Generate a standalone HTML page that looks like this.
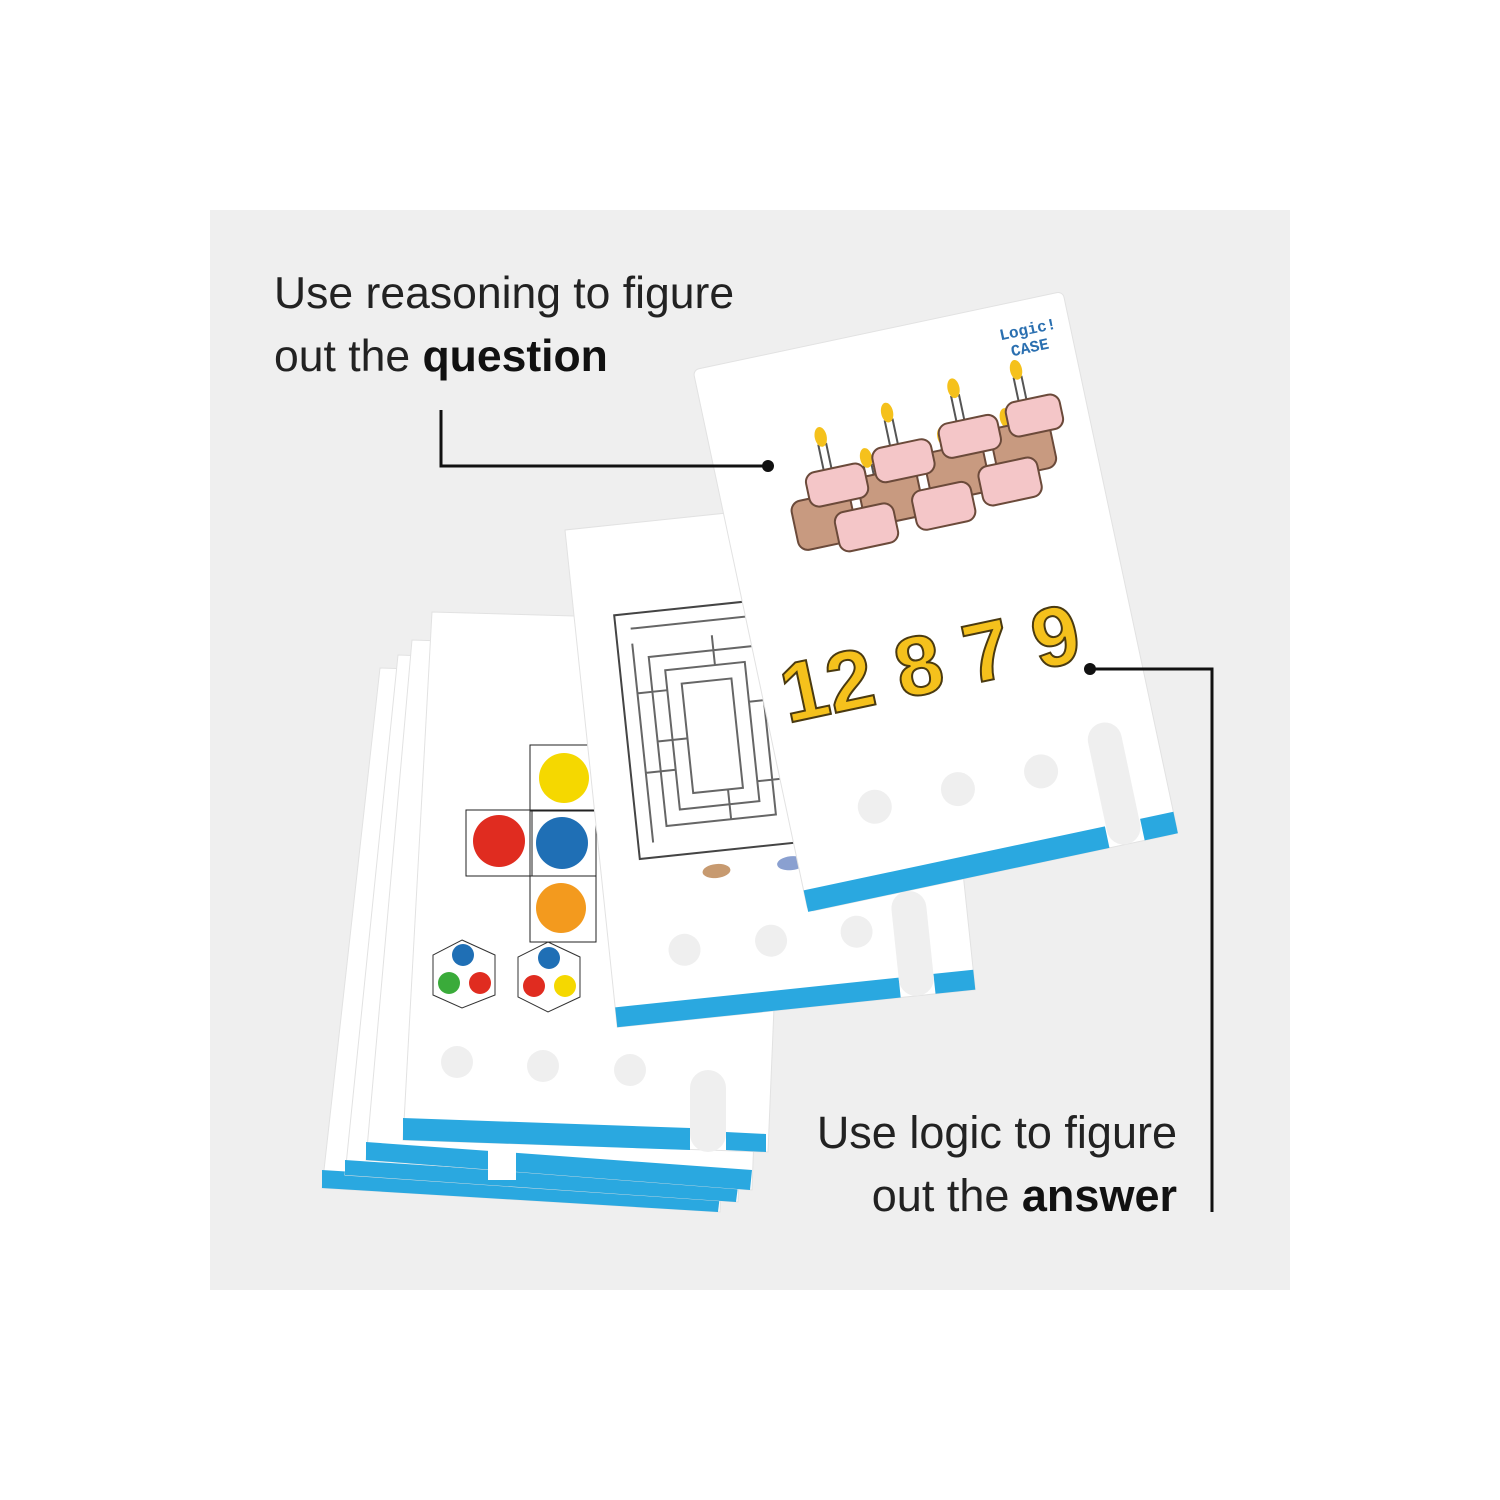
<!DOCTYPE html>
<html><head><meta charset="utf-8"><style>
html,body{margin:0;padding:0;background:#fff;}
.wrap{position:relative;width:1500px;height:1500px;overflow:hidden;}
.t{position:absolute;font-family:"Liberation Sans",sans-serif;color:#222;line-height:63px;white-space:nowrap;}
b{font-weight:bold;color:#111;}
</style></head><body><div class="wrap">
<svg width="1500" height="1500" style="position:absolute;left:0;top:0">
<rect x="210" y="210" width="1080" height="1080" fill="#efefef"/>
<g>
<polygon points="380,668 740,680 720,1212 322,1188" fill="#fff" stroke="#e2e2e2"/>
<polygon points="322,1170 720,1195 718,1212 322,1188" fill="#2aa8e0"/>
<polygon points="398,655 758,668 738,1202 345,1175" fill="#fff" stroke="#e2e2e2"/>
<polygon points="345,1160 738,1186 736,1202 345,1175" fill="#2aa8e0"/>
<polygon points="412,640 772,652 752,1190 366,1160" fill="#fff" stroke="#e2e2e2"/>
<polygon points="366,1142 752,1170 750,1190 366,1160" fill="#2aa8e0"/>
<rect x="488" y="1150" width="28" height="30" fill="#fff"/>
<polygon points="432,612 790,622 768,1152 403,1140" fill="#fff" stroke="#e2e2e2"/>
<polygon points="403,1118 690,1128 690,1150 403,1140" fill="#2aa8e0"/>
<polygon points="726,1132 766,1134 766,1152 726,1150" fill="#2aa8e0"/>
<rect x="690" y="1070" width="36" height="82" rx="18" fill="#efefef"/>
<circle cx="457" cy="1062" r="16" fill="#efefef"/><circle cx="543" cy="1066" r="16" fill="#efefef"/><circle cx="630" cy="1070" r="16" fill="#efefef"/>
<rect x="530" y="745" width="66" height="66" fill="none" stroke="#222"/>
<rect x="466" y="810" width="66" height="66" fill="none" stroke="#222"/>
<rect x="530" y="810" width="66" height="66" fill="none" stroke="#222"/>
<rect x="530" y="876" width="66" height="66" fill="none" stroke="#222"/>
<circle cx="564" cy="778" r="25" fill="#f5d800"/><circle cx="499" cy="841" r="26" fill="#e02c20"/><circle cx="562" cy="843" r="26" fill="#1f6fb5"/><circle cx="561" cy="908" r="25" fill="#f39a1e"/>
<polygon points="462,940 495,955 495,995 462,1008 433,995 433,955" fill="#fff" stroke="#333"/>
<circle cx="463" cy="955" r="11" fill="#1f6fb5"/><circle cx="449" cy="983" r="11" fill="#3aab3a"/><circle cx="480" cy="983" r="11" fill="#e02c20"/>
<polygon points="548,942 580,957 580,997 548,1012 518,997 518,957" fill="#fff" stroke="#333"/>
<circle cx="549" cy="958" r="11" fill="#1f6fb5"/><circle cx="534" cy="986" r="11" fill="#e02c20"/><circle cx="565" cy="986" r="11" fill="#f5d800"/>
</g>
<g transform="rotate(-6 565 530)">
<rect x="565" y="530" width="360" height="500" fill="#fff" stroke="#e2e2e2"/>
<rect x="565" y="1010" width="285" height="20" fill="#2aa8e0"/>
<rect x="885" y="1010" width="40" height="20" fill="#2aa8e0"/>
<rect x="850" y="925" width="35" height="105" rx="17" fill="#efefef"/>
<circle cx="640" cy="960" r="16" fill="#efefef"/><circle cx="727" cy="960" r="16" fill="#efefef"/><circle cx="813" cy="960" r="16" fill="#efefef"/>
<rect x="605" y="620" width="170" height="245" fill="none" stroke="#444" stroke-width="2"/>
<path d="M620 635h140M620 650v200M635 665h110v170h-110zM650 680h80v140h-80zM665 695h50v110h-50zM620 700h30M700 650v30M760 720h-30M620 780h30M700 835v-30M635 750h30M760 800h-30" fill="none" stroke="#666" stroke-width="2"/>
<ellipse cx="680" cy="885" rx="14" ry="7" fill="#c79a70"/><ellipse cx="755" cy="885" rx="14" ry="7" fill="#8aa0d0"/>
</g>
<g transform="rotate(-12 693 370)">
<rect x="693" y="370" width="378" height="554" rx="6" fill="#fff" stroke="#e2e2e2"/>
<rect x="693" y="902" width="308" height="22" fill="#2aa8e0"/>
<rect x="1037" y="902" width="34" height="22" fill="#2aa8e0"/>
<rect x="1002" y="800" width="34" height="124" rx="17" fill="#efefef"/>
<circle cx="780" cy="835" r="17" fill="#efefef"/><circle cx="865" cy="835" r="17" fill="#efefef"/><circle cx="950" cy="835" r="17" fill="#efefef"/>
<text x="1000" y="405" font-family="Liberation Mono,monospace" font-size="16" font-weight="bold" fill="#2a6fb0">Logic!</text>
<text x="1008" y="423" font-family="Liberation Mono,monospace" font-size="16" font-weight="bold" fill="#2a6fb0">CASE</text>
<g stroke="#555" stroke-width="2" fill="#fff"><rect x="800" y="470" width="8" height="30"/><rect x="870" y="460" width="8" height="30"/><rect x="940" y="450" width="8" height="30"/><rect x="1005" y="445" width="8" height="30"/><rect x="840" y="500" width="8" height="30"/><rect x="920" y="495" width="8" height="30"/><rect x="985" y="490" width="8" height="30"/></g>
<g fill="#f5c11c"><ellipse cx="804" cy="462" rx="6" ry="10"/><ellipse cx="874" cy="452" rx="6" ry="10"/><ellipse cx="944" cy="442" rx="6" ry="10"/><ellipse cx="1009" cy="437" rx="6" ry="10"/><ellipse cx="844" cy="492" rx="6" ry="10"/><ellipse cx="924" cy="487" rx="6" ry="10"/><ellipse cx="989" cy="482" rx="6" ry="10"/></g>
<g fill="#f4c6c8" stroke="#6b4a3a" stroke-width="2">
<rect x="760" y="520" width="60" height="50" rx="10" fill="#c89a80"/><rect x="830" y="510" width="60" height="50" rx="10" fill="#c89a80"/><rect x="900" y="500" width="60" height="50" rx="10" fill="#c89a80"/><rect x="970" y="490" width="60" height="50" rx="10" fill="#c89a80"/>
<rect x="780" y="495" width="60" height="35" rx="10"/><rect x="850" y="485" width="60" height="35" rx="10"/><rect x="920" y="475" width="60" height="35" rx="10"/><rect x="990" y="468" width="55" height="35" rx="10"/>
<rect x="800" y="540" width="60" height="40" rx="10"/><rect x="880" y="535" width="60" height="40" rx="10"/><rect x="950" y="525" width="60" height="40" rx="10"/>
</g>
<text x="712" y="735" font-family="Liberation Sans,sans-serif" font-size="84" font-weight="bold" fill="#f5c11c" stroke="#4a3a10" stroke-width="2">12 8 7 9</text>
</g>
<polyline points="441,410 441,466 768,466" fill="none" stroke="#111" stroke-width="3"/>
<circle cx="768" cy="466" r="6" fill="#111"/>
<polyline points="1090,669 1212,669 1212,1212" fill="none" stroke="#111" stroke-width="3"/>
<circle cx="1090" cy="669" r="6" fill="#111"/>
</svg>
<div class="t" style="left:274px;top:262px;font-size:44.5px">Use reasoning to figure<br>out the <b>question</b></div>
<div class="t" style="right:323px;top:1101px;text-align:right;font-size:45px">Use logic to figure<br>out the <b>answer</b></div>
</div></body></html>
